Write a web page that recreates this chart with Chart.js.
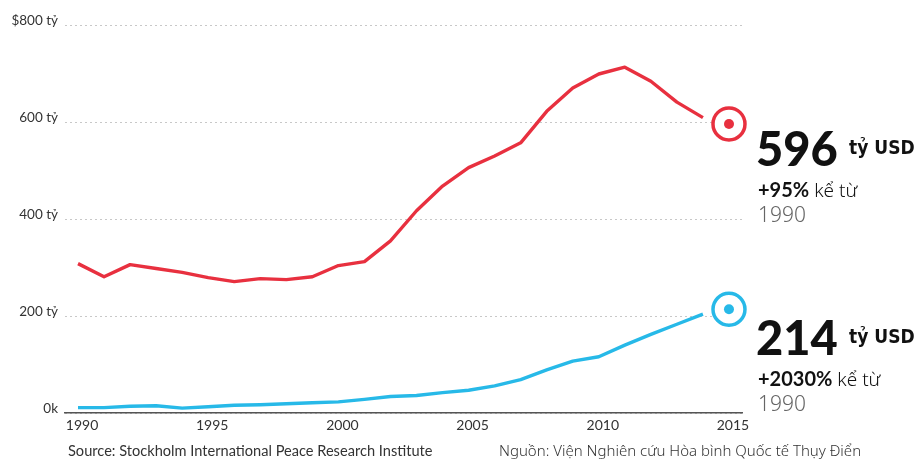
<!DOCTYPE html>
<html>
<head>
<meta charset="utf-8">
<script src="https://cdn.jsdelivr.net/npm/chart.js@4.4.1/dist/chart.umd.min.js"></script>
<style>
  html, body { margin: 0; padding: 0; background: #fff; }
  #wrap { width: 920px; height: 459px; }
</style>
</head>
<body>
<div id="wrap"><canvas id="milChart" width="920" height="459"></canvas></div>
<script>
  // chi tieu quan su (ty USD), doc tu hinh
  const years = [1990, 1991, 1992, 1993, 1994, 1995, 1996, 1997, 1998, 1999, 2000, 2001, 2002,
                 2003, 2004, 2005, 2006, 2007, 2008, 2009, 2010, 2011, 2012, 2013, 2014];
  const usSpending = [308, 281, 306, 298, 290, 279, 271, 277, 275, 281, 304, 312, 355,
                      417, 468, 506, 530, 557, 622, 670, 699, 713, 684, 641, 609];
  const chinaSpending = [11, 11, 14, 15, 10, 13, 16, 17, 19, 21, 23, 28, 34,
                         36, 42, 47, 56, 69, 89, 107, 116, 140, 162, 183, 204];
  const latestYear = 2015;
  const usLatest = 596;
  const chinaLatest = 214;

  const xTickYears = [1990, 1995, 2000, 2005, 2010, 2015];
  const yTickValues = [0, 200, 400, 600, 800];
  const yTickLabels = ['0k', '200 tỷ', '400 tỷ', '600 tỷ', '$800 tỷ'];

  const RED = '#e8303f';
  const BLUE = '#27b9e8';

  const toPoints = (vals) => vals.map((v, i) => ({ x: years[i], y: v }));

  // chu thich ben phai + nguon
  const notesPlugin = {
    id: 'notes',
    afterDraw(chart) {
      const c = chart.ctx;
      c.save();
      c.textBaseline = 'alphabetic';
      c.textAlign = 'left';

      const block = (big, base, pct) => {
        c.fillStyle = '#111';
        c.font = '900 47px Lato';
        c.fillText(big, 756, base);
        c.font = 'bold 19px "DejaVu Sans Condensed", "DejaVu Sans"';
        c.fillText('tỷ USD', 849, base - 12);
        c.font = 'bold 20px Lato';
        c.fillText(pct, 758, base + 31);
        const w = c.measureText(pct).width;
        c.font = '300 19px "Noto Sans", Lato';
        c.fillText(' kể từ', 758 + w, base + 31);
        c.fillStyle = '#666';
        c.font = '300 21px "Noto Sans", Lato';
        c.fillText('1990', 758, base + 56);
      };
      block(String(usLatest), 166, '+95%');
      block(String(chinaLatest), 355, '+2030%');

      c.fillStyle = '#333';
      c.font = '14.6px Lato';
      c.fillText('Source: Stockholm International Peace Research Institute', 68, 456);
      c.font = '300 15px "Noto Sans", Lato';
      c.fillText('Nguồn: Viện Nghiên cứu Hòa bình Quốc tế Thụy Điển', 499, 456, 366);
      c.restore();
    }
  };

  const ctx = document.getElementById('milChart').getContext('2d');
  const milChart = new Chart(ctx, {
    type: 'line',
    data: {
      datasets: [
        {
          label: 'US dot',
          data: [{ x: latestYear, y: usLatest }],
          showLine: false,
          pointRadius: 5,
          pointBackgroundColor: RED,
          pointBorderWidth: 0,
          order: 0
        },
        {
          label: 'China dot',
          data: [{ x: latestYear, y: chinaLatest }],
          showLine: false,
          pointRadius: 5,
          pointBackgroundColor: BLUE,
          pointBorderWidth: 0,
          order: 0
        },
        {
          label: 'US ring',
          data: [{ x: latestYear, y: usLatest }],
          showLine: false,
          pointRadius: 16,
          pointBackgroundColor: '#fff',
          pointBorderColor: RED,
          pointBorderWidth: 3.5,
          order: 1
        },
        {
          label: 'China ring',
          data: [{ x: latestYear, y: chinaLatest }],
          showLine: false,
          pointRadius: 16,
          pointBackgroundColor: '#fff',
          pointBorderColor: BLUE,
          pointBorderWidth: 3.5,
          order: 1
        },
        {
          label: 'US',
          data: toPoints(usSpending),
          borderColor: RED,
          borderWidth: 3.4,
          pointRadius: 0,
          tension: 0,
          borderJoinStyle: 'round',
          order: 2
        },
        {
          label: 'China',
          data: toPoints(chinaSpending),
          borderColor: BLUE,
          borderWidth: 3.4,
          pointRadius: 0,
          tension: 0,
          borderJoinStyle: 'round',
          order: 2
        }
      ]
    },
    options: {
      responsive: false,
      animation: false,
      clip: false,
      layout: { padding: { top: 25, right: 178, bottom: 0, left: 0 } },
      plugins: {
        legend: { display: false },
        tooltip: { enabled: false }
      },
      scales: {
        x: {
          type: 'linear',
          min: 1989.5,
          max: 2015.5,
          afterBuildTicks: (axis) => { axis.ticks = xTickYears.map(v => ({ value: v })); },
          afterFit: (axis) => { axis.height = 46; },
          grid: { display: false, drawTicks: false },
          border: { display: true, color: '#555', width: 1.5 },
          ticks: {
            padding: 4,
            labelOffset: 4,
            color: '#333',
            font: { family: 'Lato', size: 14 },
            maxRotation: 0,
            callback: (v) => String(v)
          }
        },
        y: {
          min: 0,
          max: 800,
          afterBuildTicks: (axis) => { axis.ticks = yTickValues.map(v => ({ value: v })); },
          afterFit: (axis) => { axis.width = 65; },
          grid: { color: '#c8c8c8', lineWidth: 1, drawTicks: false },
          border: { display: false, dash: [2, 3] },
          ticks: {
            padding: 7,
            labelOffset: -4,
            color: '#333',
            font: { family: 'Lato', size: 13.5 },
            callback: (v) => yTickLabels[yTickValues.indexOf(v)]
          }
        }
      }
    },
    plugins: [notesPlugin]
  });
</script>
</body>
</html>
